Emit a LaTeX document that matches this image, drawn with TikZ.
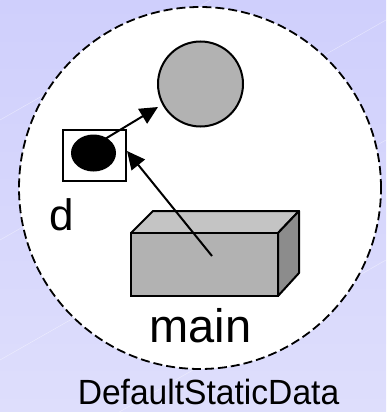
\documentclass[tikz,border=0pt]{standalone}
\usepackage{fontspec}
\setmainfont{Liberation Sans}
\usetikzlibrary{arrows.meta,shapes.geometric}
\definecolor{bgtop}{RGB}{207,207,252}
\definecolor{bgbot}{RGB}{222,222,252}
\definecolor{grayfill}{RGB}{178,178,178}
\definecolor{topfill}{RGB}{196,196,196}
\definecolor{sidefill}{RGB}{140,140,140}
\tikzset{
  outline/.style={draw=black, line width=2pt},
  arr/.style={draw=black, line width=2pt, -{Triangle[length=18pt,width=17pt]}},
  bigtext/.style={inner sep=0pt, text=black}
}
\begin{document}
\begin{tikzpicture}[x=1pt,y=-1pt]
\useasboundingbox (0,0) rectangle (386,412);
\shade[top color=bgtop, bottom color=bgbot] (0,0) rectangle (386,412);
\begin{scope}
\clip (0,0) rectangle (386,412);
\foreach \o in {-300,-180,-60,60,180,300,420}{
  \draw[white, opacity=0.45, line width=0.5pt] (0,\o+60) -- (386,\o-160);
}
\end{scope}
% dashed enclosure
\node[circle, draw=black, fill=white, dash pattern=on 9pt off 4pt, line width=1.8pt,
  minimum width=362pt, inner sep=0pt] (scope) at (200,188) {};
% gray circle object
\node[circle, outline, fill=grayfill, minimum size=85pt, inner sep=0pt] (obj) at (200.5,84) {};
% d box
\node[rectangle, outline, fill=white, minimum width=63pt, minimum height=51pt, inner sep=0pt] (dbox) at (94,155) {};
\node[ellipse, fill=black, minimum width=45pt, minimum height=37pt, inner sep=0pt] (dot) at (93.5,153) {};
\node[bigtext, font=\fontsize{44}{44}\selectfont, anchor=base] (dlabel) at (62,230) {d};
% box main
\coordinate (f1) at (131,233);
\coordinate (f2) at (278,233);
\coordinate (f3) at (278,296);
\coordinate (f4) at (131,296);
\coordinate (b1) at (153,211);
\coordinate (b2) at (299,211);
\coordinate (b3) at (299,273);
\filldraw[outline, fill=topfill, line join=round] (f1) -- (b1) -- (b2) -- (f2) -- cycle;
\filldraw[outline, fill=sidefill, line join=round] (f2) -- (b2) -- (b3) -- (f3) -- cycle;
\filldraw[outline, fill=grayfill] (f1) rectangle (f3);
\coordinate (mainpt) at (212,256);
\node[bigtext, font=\fontsize{47}{47}\selectfont, anchor=base] (mainlabel) at (200.5,342) {main};
\node[bigtext, font=\fontsize{35}{35}\selectfont, anchor=base, xscale=0.96] (title) at (208.5,404) {DefaultStaticData};
% arrows
\coordinate (a1s) at (105,139);
\coordinate (a1e) at (158,107);
\draw[arr] (a1s) -- (a1e);
\coordinate (a2e) at (127,151);
\draw[arr] (mainpt) -- (a2e);
\end{tikzpicture}
\end{document}
